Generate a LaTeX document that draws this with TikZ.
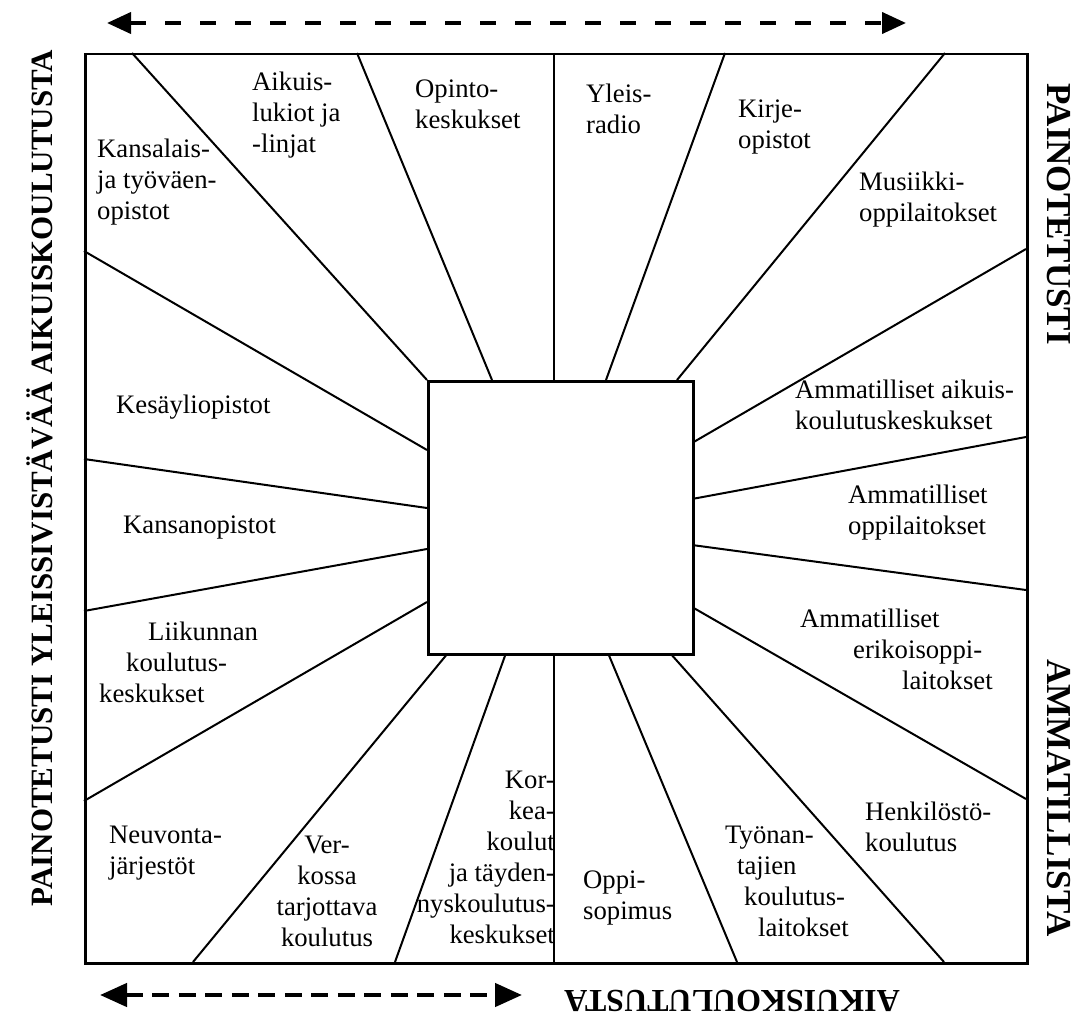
\documentclass[tikz,border=0pt]{standalone}
\usepackage{fontspec}
\setmainfont{Liberation Serif}
\usetikzlibrary{arrows.meta}
\begin{document}
\begin{tikzpicture}[x=1pt,y=-1pt,
  lbl/.style={font=\fontsize{26.7}{31}\selectfont, inner sep=0pt, yshift=21.7pt},
  lbll/.style={lbl, anchor=north west, align=left},
  lblr/.style={lbl, anchor=north east, align=right},
  lblc/.style={lbl, anchor=north, align=center},
  ray/.style={line width=2pt},
  box/.style={draw, line width=2.5pt, inner sep=0pt, anchor=north west},
  side/.style={font=\bfseries, inner sep=0pt, anchor=base},
  spreadtop/.style={line width=4pt, dash pattern=on 16pt off 19pt,
    {Triangle[length=24pt,width=21pt]}-{Triangle[length=24pt,width=21pt]}},
  spreadbot/.style={line width=4.5pt, dash pattern=on 17pt off 9.5pt,
    {Triangle[length=27pt,width=23pt]}-{Triangle[length=27pt,width=23pt]}}
]
\fill[white] (0,0) rectangle (1086,1019);
\useasboundingbox (0,0) rectangle (1086,1019);

% rays from the central square to the frame
\draw[ray] (132,53) -- (427,380);
\draw[ray] (357,53) -- (492,380);
\draw[ray] (554,53) -- (554,380);
\draw[ray] (725,53) -- (606,380);
\draw[ray] (945,53) -- (677,380);
\draw[ray] (1026,249) -- (692,443);
\draw[ray] (1026,437) -- (692,499);
\draw[ray] (1026,590) -- (692,545);
\draw[ray] (1026,799) -- (692,607);
\draw[ray] (944,962) -- (670,653);
\draw[ray] (737,962) -- (608,653);
\draw[ray] (554,962) -- (554,653);
\draw[ray] (395,962) -- (506,653);
\draw[ray] (193,962) -- (448,653);
\draw[ray] (84,801) -- (427,602);
\draw[ray] (84,611) -- (427,549);
\draw[ray] (84,459) -- (427,508);
\draw[ray] (84,251) -- (427,450);

% frame and central square
\node[box, minimum width=942pt, minimum height=909pt] (frame) at (84,53) {};
\node[box, fill=white, minimum width=265pt, minimum height=273pt] (core) at (427,380) {};

% sector labels
\node[lbll] (kansalais) at (97,157) {\strut Kansalais-\\ja työväen-\\opistot};
\node[lbll] (aikuislukiot) at (252,90) {\strut Aikuis-\\lukiot ja\\-linjat};
\node[lbll] (opinto) at (415,97) {\strut Opinto-\\keskukset};
\node[lbll] (yleisradio) at (586,102) {\strut Yleis-\\radio};
\node[lbll] (kirje) at (738,117) {\strut Kirje-\\opistot};
\node[lbll] (musiikki) at (859,190) {\strut Musiikki-\\oppilaitokset};
\node[lbll] (amaikuis) at (795,398) {\strut Ammatilliset aikuis-\\koulutuskeskukset};
\node[lbll] (amoppi) at (848,503) {\strut Ammatilliset\\oppilaitokset};
\node[lbll] (amerikois) at (800,627) {\strut Ammatilliset\\\hspace*{53pt}erikoisoppi-\\\hspace*{102pt}laitokset};
\node[lbll] (henkilosto) at (865,820) {\strut Henkilöstö-\\koulutus};
\node[lbll] (tyonantajien) at (725,843) {\strut Työnan-\\\hspace*{12pt}tajien\\\hspace*{19pt}koulutus-\\\hspace*{33pt}laitokset};
\node[lbll] (oppisopimus) at (583,888) {\strut Oppi-\\sopimus};
\node[lblr] (korkea) at (555,788) {\strut Kor-\\kea-\\koulut\\ja täyden-\\nyskoulutus-\\keskukset};
\node[lblc] (verkossa) at (327,853) {\strut Ver-\\kossa\\tarjottava\\koulutus};
\node[lbll] (neuvonta) at (109,843) {\strut Neuvonta-\\järjestöt};
\node[lbll] (liikunnan) at (99,640) {\strut\hspace*{49pt}Liikunnan\\\hspace*{27pt}koulutus-\\keskukset};
\node[lbll] (kansanopistot) at (123,533) {\strut Kansanopistot};
\node[lbll] (kesayliopistot) at (116,413) {\strut Kesäyliopistot};

% axis captions
\node[side, rotate=90, font=\bfseries\fontsize{31}{31}\selectfont] (leftcap) at (52,478) {PAINOTETUSTI YLEISSIVISTÄVÄÄ AIKUISKOULUTUSTA};
\node[side, rotate=-90, font=\bfseries\fontsize{35}{35}\selectfont] (rightcaptop) at (1047,214) {PAINOTETUSTI};
\node[side, rotate=-90, font=\bfseries\fontsize{35}{35}\selectfont] (rightcapbot) at (1047,798) {AMMATILLISTA};
\node[side, rotate=180, font=\bfseries\fontsize{32}{32}\selectfont] (bottomcap) at (732,990) {AIKUISKOULUTUSTA};

% two-way arrows
\coordinate (topL) at (107,23);
\coordinate (topR) at (906,23);
\coordinate (botL) at (100,995);
\coordinate (botR) at (522,995);
\draw[spreadtop] (topL) -- (topR);
\draw[spreadbot] (botL) -- (botR);
\end{tikzpicture}
\end{document}
